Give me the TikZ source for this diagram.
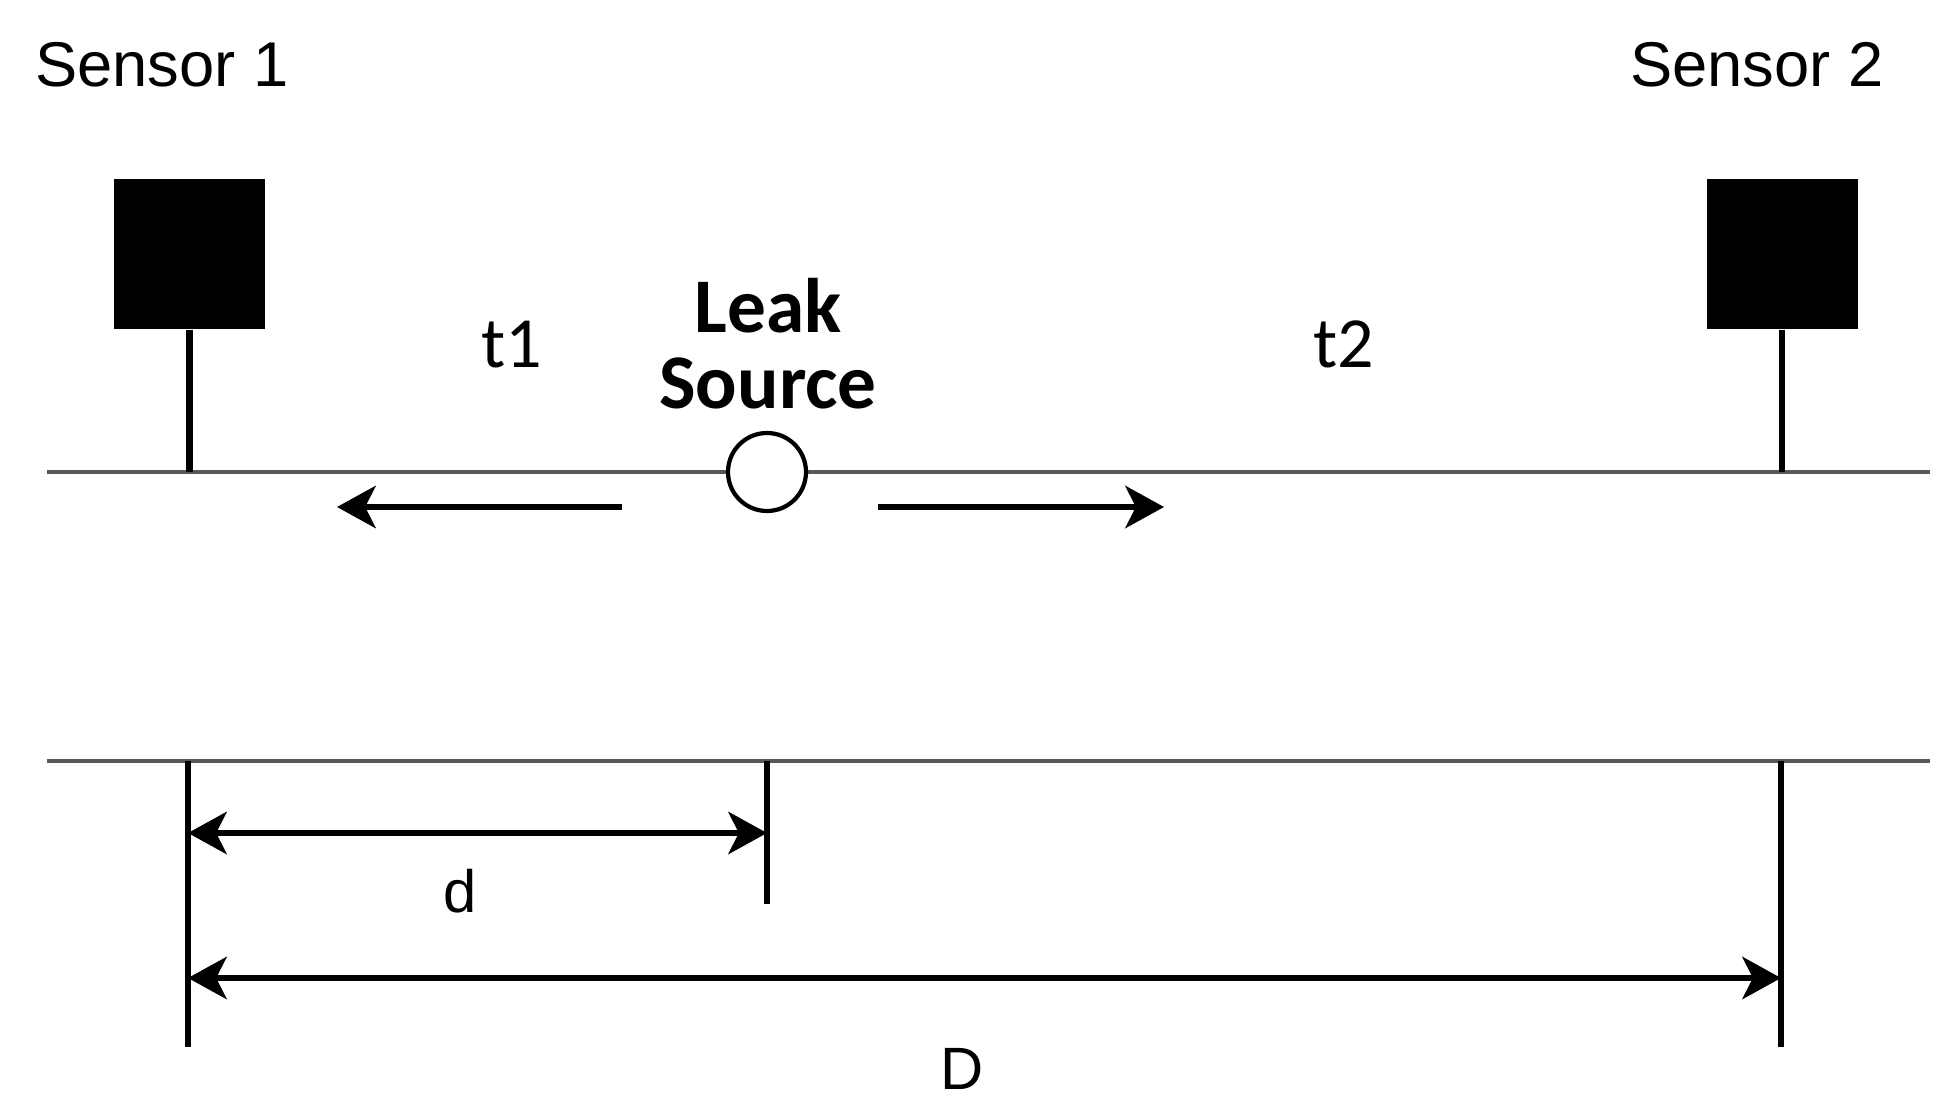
\documentclass[tikz,border=0pt]{standalone}
\usepackage{fontspec}
\setmainfont{Liberation Sans}
\newfontfamily\narrowfont{Carlito}
\usetikzlibrary{arrows.meta}

\begin{document}
\begin{tikzpicture}[
    pipe/.style={line width=1.3pt, black!65},
    sensorbox/.style={fill=black, minimum width=1.51cm, minimum height=1.5cm, inner sep=0pt},
    stem/.style={line width=1.8pt},
    flow/.style={-{Stealth[length=11pt, width=12pt, inset=3pt]}, line width=1.8pt},
    dim/.style={{Stealth[length=11pt, width=12pt, inset=3pt]}-{Stealth[length=11pt, width=12pt, inset=3pt]}, line width=1.8pt},
    tick/.style={line width=1.8pt},
    sensorlabel/.style={anchor=base, inner sep=0pt, font=\fontsize{18}{22}\selectfont},
    timelabel/.style={anchor=base, inner sep=0pt, font=\narrowfont\fontsize{20.5}{24}\selectfont},
    dimlabel/.style={anchor=base, inner sep=0pt, font=\fontsize{17}{20}\selectfont}
]
    \useasboundingbox (0,0) rectangle (19.58,-11.09);

    % Pipes
    \draw[pipe] (0.47,-4.72) -- (19.30,-4.72);
    \draw[pipe] (0.47,-7.61) -- (19.30,-7.61);

    % Sensors
    \foreach \n/\x/\lx in {1/1.895/1.62, 2/17.82/17.57} {
        \node[sensorlabel] (label\n) at (\lx,-0.87) {Sensor \n};
        \node[sensorbox] (sensor\n) at (\x,-2.54) {};
        \coordinate (tap\n) at (\x,-4.72);
        \draw[stem] (sensor\n.south) -- (tap\n);
    }

    % Leak source
    \node[circle, draw, line width=1.2pt, fill=white, minimum size=0.78cm, inner sep=0pt] (leak) at (7.67,-4.72) {};
    \node[align=center, anchor=base, inner sep=0pt, font=\narrowfont\bfseries\fontsize{22}{21.5}\selectfont] (leaktext) at (7.68,-4.08) {Leak\\Source};

    % Travel times
    \node[timelabel] (t1) at (5.12,-3.68) {t1};
    \node[timelabel] (t2) at (13.44,-3.68) {t2};

    \coordinate (lstart) at (6.22,-5.07);
    \coordinate (lend) at (3.37,-5.07);
    \coordinate (rstart) at (8.78,-5.07);
    \coordinate (rend) at (11.64,-5.07);
    \draw[flow] (lstart) -- (lend);
    \draw[flow] (rstart) -- (rend);

    % Distances
    \coordinate (ltop) at (1.88,-7.61);
    \coordinate (lbot) at (1.88,-10.47);
    \coordinate (mtop) at (7.67,-7.61);
    \coordinate (mbot) at (7.67,-9.04);
    \coordinate (rtop) at (17.81,-7.61);
    \coordinate (rbot) at (17.81,-10.47);
    \draw[tick] (ltop) -- (lbot);
    \draw[tick] (mtop) -- (mbot);
    \draw[tick] (rtop) -- (rbot);

    \draw[dim] (1.88,-8.33) -- (7.67,-8.33);
    \node[dimlabel] (dlabel) at (4.60,-9.12) {d};

    \draw[dim] (1.88,-9.78) -- (17.81,-9.78);
    \node[dimlabel] (Dlabel) at (9.62,-10.89) {D};
\end{tikzpicture}
\end{document}
